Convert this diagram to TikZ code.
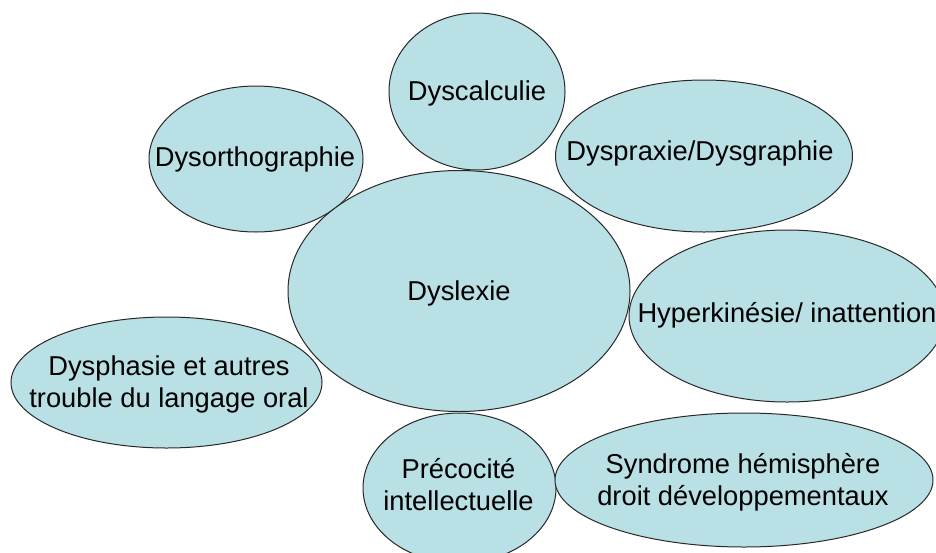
\documentclass[tikz,border=0pt]{standalone}
\usepackage{fontspec}
\setmainfont{Liberation Sans}
\usetikzlibrary{shapes.geometric}
\definecolor{bubblefill}{RGB}{185,224,228}
\definecolor{bubbleline}{RGB}{40,40,40}
\begin{document}
\begin{tikzpicture}[x=1pt,y=-1pt,
  bubble/.style={ellipse, draw=bubbleline, fill=bubblefill, line width=1pt, inner sep=0pt},
  lbl/.style={font=\fontsize{27.3}{31.5}\selectfont, inner sep=0pt, align=center, anchor=base}]
\useasboundingbox (0,0) rectangle (936,552);
\clip (0,0) rectangle (936,552);
% bubbles
\node[bubble, minimum width=176pt, minimum height=157pt] (calc) at (477,91.5) {};
\node[bubble, minimum width=214pt, minimum height=146pt] (ortho) at (256,159) {};
\node[bubble, minimum width=297pt, minimum height=152pt] (praxie) at (704,156) {};
\node[bubble, minimum width=342pt, minimum height=241pt] (lexie) at (459,291) {};
\node[bubble, minimum width=316pt, minimum height=172pt] (hyper) at (787,316) {};
\node[bubble, minimum width=311pt, minimum height=131pt] (phasie) at (166.5,382.5) {};
\node[bubble, minimum width=193pt, minimum height=150pt] (precoc) at (459.5,488) {};
\node[bubble, minimum width=378pt, minimum height=134pt] (syndr) at (744,480) {};
% labels
\node[lbl] (tcalc) at (477,100) {Dyscalculie};
\node[lbl] (tortho) at (255,166) {Dysorthographie};
\node[lbl] (tpraxie) at (700,160) {Dyspraxie/Dysgraphie};
\node[lbl] (tlexie) at (459,300) {Dyslexie};
\node[lbl] (thyper) at (787,322) {Hyperkinésie/ inattention};
\node[lbl] (tphasie) at (169,407) {Dysphasie et autres\\trouble du langage oral};
\node[lbl] (tprecoc) at (458.5,510) {Précocité\\intellectuelle};
\node[lbl] (tsyndr) at (743,505) {Syndrome hémisphère\\droit développementaux};
\end{tikzpicture}
\end{document}
